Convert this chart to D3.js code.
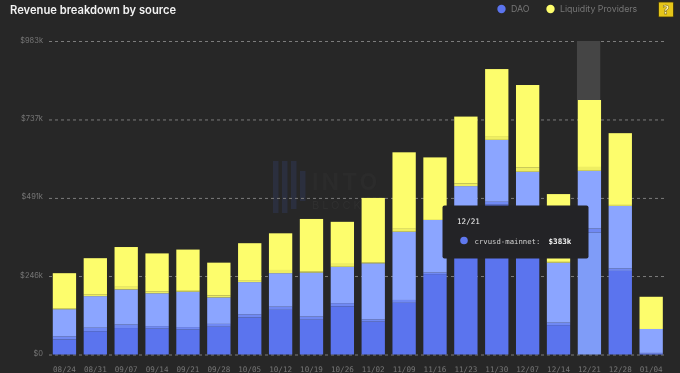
<!DOCTYPE html>
<html><head><meta charset="utf-8">
<script src="https://cdn.jsdelivr.net/npm/d3@7"></script>
<style>
html,body{margin:0;padding:0;background:#272727;overflow:hidden}
svg{display:block;filter:blur(.5px)}
</style></head><body><div id="chart"></div>
<script>
const dates=["08/24","08/31","09/07","09/14","09/21","09/28","10/05","10/12","10/19","10/26","11/02","11/09","11/16","11/23","11/30","12/07","12/14","12/21","12/28","01/04"];
const yTicks=[0,246,491,737,983];
// values in $k
const daoBase =[47,73,83,81,78,87,116,140,109,151,103,162,252,390,470,385,92,383,262,2];
const daoEdge =[10,11,11,8,8,9,10,10,10,10,7,9,5,8,9,8,8,12,8,3];
const daoUpper=[85,99,110,103,111,83,101,105,138,114,176,214,165,130,194,180,188,181,196,75];
const lpEdge  =[3,6,8,5,5,6,4,10,4,9,3,9,0,8,12,14,5,12,3,0];
const lpMain  =[110,113,125,120,127,103,118,115,164,132,202,240,196,210,210,258,210,210,225,101];
const legendItems=["DAO","Liquidity Providers"];
const hoverDate="12/21";
const hoverTop=798;
const tipLabel="crvusd-mainnet:";
const tipValue="$383k";

const W=680,H=373;
const colors={daoBase:"#5b74ee",daoEdge:"#7089f3",daoUpper:"#8ba5ff",lpEdge:"#eeee62",lpMain:"#fdfd6c"};
const rows=dates.map((d,i)=>({date:d,daoBase:daoBase[i],daoEdge:daoEdge[i],daoUpper:daoUpper[i],lpEdge:lpEdge[i],lpMain:lpMain[i]}));
const keys=["daoBase","daoEdge","daoUpper","lpEdge","lpMain"];
const stacked=d3.stack().keys(keys)(rows);

const x=d3.scaleBand().domain(dates).range([49,666.6]).paddingInner(.245).paddingOuter(.1225);
const y=d3.scaleLinear().domain([0,983]).range([354.5,41]);

const svg=d3.select("#chart").append("svg").attr("width",W).attr("height",H);
svg.append("rect").attr("width",W).attr("height",H).attr("fill","#272727");

// watermark
const wm=svg.append("g");
wm.selectAll("rect").data([0,1,2,3]).join("rect")
  .attr("x",d=>273+d*9).attr("y",d=>d==3?171:161).attr("width",5.5).attr("height",d=>d==3?30:d==2?48:52)
  .attr("fill","#2b2f3e");
wm.append("text").attr("x",312).attr("y",190).attr("font-family","Inter").attr("font-weight",700).attr("font-size",23).attr("letter-spacing",3).attr("fill","#2b2b2b").text("INTO");
wm.append("text").attr("x",312).attr("y",209).attr("font-family","Inter").attr("font-size",11).attr("letter-spacing",3).attr("fill","#2f2f2f").text("BLOCK");

// axes
const yAxis=d3.axisLeft(y).tickValues(yTicks).tickSize(-618).tickPadding(6)
  .tickFormat(d=>d==0?"$0":"$"+d+"k");
const gy=svg.append("g").attr("transform","translate(49,0)").call(yAxis);
gy.select(".domain").remove();
gy.selectAll("line").attr("stroke","#7c7c7c").attr("stroke-width",1).attr("stroke-dasharray","3 3");
gy.selectAll("text").attr("fill","#767676").attr("font-family","Inter").attr("font-size",7.5).attr("dy","0").attr("y",1);

const xAxis=d3.axisBottom(x).tickSize(0).tickPadding(0);
const gx=svg.append("g").attr("transform","translate(0,365.5)").call(xAxis);
gx.select(".domain").remove();
gx.selectAll("text").attr("fill","#767676").attr("font-family","'DejaVu Sans Mono'").attr("font-size",7.6).attr("dy",".8em");

// hover band
svg.append("rect").attr("x",x(hoverDate)-.8).attr("y",y(983)).attr("width",x.bandwidth())
  .attr("height",y(hoverTop)-y(983)).attr("fill","#454545");

// bars
svg.selectAll("g.series").data(stacked).join("g").attr("class","series")
  .selectAll("rect").data(s=>s.map(p=>({key:s.key,p}))).join("rect")
  .attr("x",d=>x(d.p.data.date)).attr("width",x.bandwidth())
  .attr("y",d=>y(d.p[1])).attr("height",d=>y(d.p[0])-y(d.p[1]))
  .attr("fill",d=>d.key=="daoBase"&&d.p.data.date==hoverDate?"#7f9cf8":colors[d.key]);

// title
svg.append("text").attr("x",10).attr("y",13.5).attr("font-family","Inter").attr("font-weight",600)
  .attr("font-size",11.2).attr("fill","#f2f2f2").text("Revenue breakdown by source");

// legend
const legX=[501.5,550.5],legC=[colors.daoBase,colors.lpMain],legT=[511,560];
const lg=svg.selectAll("g.leg").data(legendItems).join("g").attr("class","leg");
lg.append("circle").attr("cx",(d,i)=>legX[i]).attr("cy",9).attr("r",4.2).attr("fill",(d,i)=>legC[i]);
lg.append("text").attr("x",(d,i)=>legT[i]).attr("y",12.2).attr("font-family","Inter").attr("font-size",8.8)
  .attr("fill","#767676").text(d=>d);

// icon
svg.append("rect").attr("x",658.5).attr("y",2).attr("width",15).attr("height",15).attr("rx",1)
  .attr("fill","#e6c619").attr("stroke","#3c3208").attr("stroke-width",.8);
svg.append("text").attr("x",666).attr("y",14).attr("text-anchor","middle").attr("font-family","'DejaVu Sans'")
  .attr("font-weight",700).attr("font-size",12).attr("fill","#fff5b0").attr("stroke","#5a4a08").attr("stroke-width",.4).text("?");

// tooltip
const tip=svg.append("g");
tip.append("rect").attr("x",442.5).attr("y",205.5).attr("width",146).attr("height",53).attr("rx",2).attr("fill","#232326");
tip.append("text").attr("x",457).attr("y",224).attr("font-family","'DejaVu Sans Mono'").attr("font-size",7.6).attr("fill","#f0f0f0").text(hoverDate);
tip.append("circle").attr("cx",464).attr("cy",240.5).attr("r",3.8).attr("fill","#5f78ee");
tip.append("text").attr("x",474.5).attr("y",243.5).attr("font-family","'DejaVu Sans Mono'").attr("font-size",7.3).attr("fill","#cfcfcf").text(tipLabel);
tip.append("text").attr("x",548.5).attr("y",243.5).attr("font-family","'DejaVu Sans Mono'").attr("font-weight",700).attr("font-size",7.6).attr("fill","#f5f5f5").text(tipValue);
</script></body></html>
